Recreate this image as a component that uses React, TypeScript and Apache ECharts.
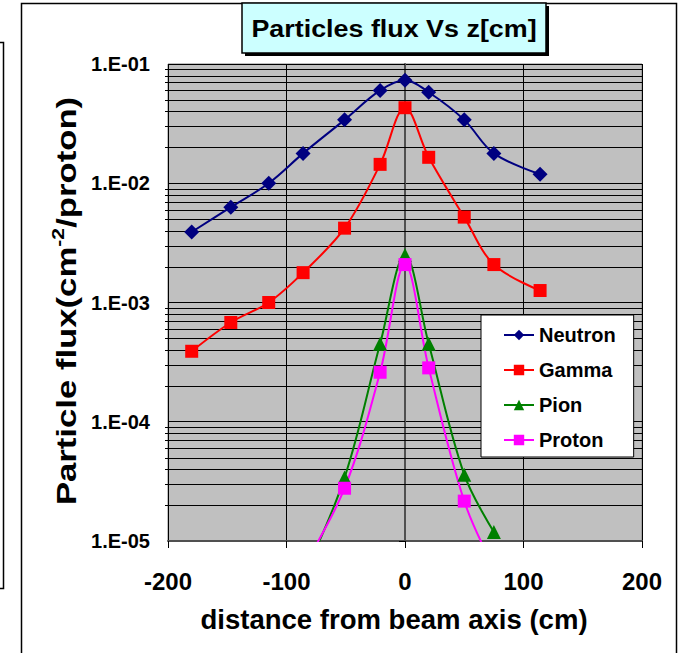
import React, { useEffect, useRef } from 'react';
import * as echarts from 'echarts';

// distances (cm) for neutron / gamma
const distanceNG = [-180, -147, -115, -86, -51, -21, 0, 20, 50, 75, 114];
const neutron = [3.9e-3, 6.3e-3, 1.0e-2, 1.78e-2, 3.4e-2, 6.0e-2, 7.3e-2, 5.8e-2, 3.4e-2, 1.78e-2, 1.19e-2];
const gamma = [3.9e-4, 6.8e-4, 1.0e-3, 1.78e-3, 4.2e-3, 1.44e-2, 4.3e-2, 1.65e-2, 5.2e-3, 2.08e-3, 1.26e-3];
// distances (cm) for pion / proton
const distancePP = [-86, -51, -21, 0, 20, 50, 75];
const pion = [5e-6, 3.4e-5, 4.5e-4, 2.5e-3, 4.5e-4, 3.6e-5, 1.19e-5];
const proton = [6e-6, 2.77e-5, 2.6e-4, 2.08e-3, 2.83e-4, 2.16e-5, 6e-6];

const seriesNames = ['Neutron', 'Gamma', 'Pion', 'Proton'];
const decades = [1e-5, 1e-4, 1e-3, 1e-2];
const minorSteps = [2, 3, 4, 5, 6, 7, 8, 9];

const FONT = 'Liberation Sans, Arial, Helvetica, sans-serif';

const pairs = (xs: number[], ys: number[]) => xs.map((x, i) => [x, ys[i]]);

export default function App() {
  const ref = useRef<HTMLDivElement>(null);

  useEffect(() => {
    if (!ref.current) return;
    const chart = echarts.init(ref.current, undefined, { renderer: 'svg' });

    const minorValues: number[][] = [];
    decades.forEach((d) => minorSteps.forEach((m) => minorValues.push([0, d * m])));

    const lineSeries = (name: string, data: number[][], color: string, symbol: string, size: number) => ({
      name,
      type: 'line',
      data,
      smooth: 0.35,
      symbol,
      symbolSize: size,
      showSymbol: true,
      clip: true,
      z: 3,
      itemStyle: { color },
      lineStyle: { color, width: 2 },
    });

    chart.setOption({
      animation: false,
      backgroundColor: '#ffffff',
      grid: {
        left: 168,
        top: 64,
        right: 39,
        bottom: 112,
        show: true,
        backgroundColor: '#C0C0C0',
        borderColor: '#808080',
        borderWidth: 1,
      },
      xAxis: {
        type: 'value',
        min: -200,
        max: 200,
        interval: 100,
        axisLine: { show: true, onZero: false, lineStyle: { color: '#505050', width: 2 } },
        axisTick: { show: true, length: 7, lineStyle: { color: '#000', width: 1 } },
        splitLine: { show: true, lineStyle: { color: '#000', width: 1 } },
        axisLabel: {
          color: '#000',
          fontSize: 24,
          fontWeight: 'bold',
          fontFamily: FONT,
          margin: 28,
        },
      },
      yAxis: {
        type: 'log',
        logBase: 10,
        min: 1e-5,
        max: 1e-1,
        axisLine: { show: true, lineStyle: { color: '#505050', width: 2 } },
        axisTick: { show: true, length: 6, lineStyle: { color: '#000', width: 1 } },
        splitLine: { show: true, lineStyle: { color: '#000', width: 1 } },
        axisLabel: {
          color: '#000',
          fontSize: 20,
          fontWeight: 'bold',
          fontFamily: FONT,
          margin: 18,
          formatter: (v: number) => {
            const e = Math.round(Math.log10(v));
            return '1.E-' + String(-e).padStart(2, '0');
          },
        },
      },
      legend: {
        data: seriesNames,
        orient: 'vertical',
        left: 481,
        top: 315,
        padding: [10, 18, 7, 22],
        itemGap: 15,
        itemWidth: 30,
        itemHeight: 13,
        backgroundColor: '#ffffff',
        borderColor: '#000',
        borderWidth: 1,
        borderRadius: 0,
        textStyle: { color: '#000', fontSize: 20, fontWeight: 'bold', fontFamily: FONT },
      },
      graphic: [
        // outer chart frame
        { type: 'rect', shape: { x: 21.5, y: 3.5, width: 655, height: 700 }, style: { fill: 'none', stroke: '#000', lineWidth: 1.5 }, z: 100 },
        // neighbouring frame at left edge
        { type: 'rect', shape: { x: -20, y: 42.5, width: 23.5, height: 546 }, style: { fill: 'none', stroke: '#000', lineWidth: 1.5 }, z: 100 },
        // title shadow + box
        { type: 'rect', shape: { x: 245, y: 6, width: 304, height: 50 }, style: { fill: '#000' }, z: 101 },
        { type: 'rect', shape: { x: 242, y: 3, width: 304, height: 50 }, style: { fill: '#CCFFFF', stroke: '#000', lineWidth: 1.5 }, z: 102 },
        {
          type: 'text', x: 394, y: 29, scaleX: 1.12, z: 103,
          style: { text: 'Particles flux Vs z[cm]', fontSize: 24, fontWeight: 'bold', fontFamily: FONT, fill: '#000', align: 'center', verticalAlign: 'middle' },
        },
        {
          type: 'text', x: 394, y: 620, scaleX: 1.02, z: 103,
          style: { text: 'distance from beam axis (cm)', fontSize: 27, fontWeight: 'bold', fontFamily: FONT, fill: '#000', align: 'center', verticalAlign: 'middle' },
        },
        {
          type: 'text', x: 66, y: 301, rotation: Math.PI / 2, scaleX: 1.24, z: 103,
          style: {
            text: '{a|Particle flux(cm}{s|-2}{a|/proton)}',
            align: 'center',
            verticalAlign: 'middle',
            fill: '#000',
            rich: {
              a: { fontSize: 28, fontWeight: 'bold', fontFamily: FONT, fill: '#000', lineHeight: 32, verticalAlign: 'middle' },
              s: { fontSize: 17, fontWeight: 'bold', fontFamily: FONT, fill: '#000', lineHeight: 32, verticalAlign: 'top' },
            },
          },
        },
      ],
      series: [
        {
          type: 'custom',
          name: 'minorGrid',
          silent: true,
          z: 1,
          clip: false,
          data: minorValues,
          renderItem: (params: any, api: any) => {
            const v = api.value(1);
            const p = api.coord([-200, v]);
            const q = api.coord([200, v]);
            const y = Math.round(p[1]) + 0.5;
            return {
              type: 'line',
              shape: { x1: p[0] - 3, y1: y, x2: q[0], y2: y },
              style: { stroke: '#000', lineWidth: 1 },
            };
          },
        },
        lineSeries('Neutron', pairs(distanceNG, neutron), '#000080', 'diamond', 15),
        lineSeries('Gamma', pairs(distanceNG, gamma), '#FF0000', 'rect', 13),
        lineSeries('Pion', pairs(distancePP, pion), '#008000', 'triangle', 14),
        lineSeries('Proton', pairs(distancePP, proton), '#FF00FF', 'rect', 13),
      ],
    });

    return () => chart.dispose();
  }, []);

  return <div ref={ref} style={{ position: 'absolute', left: 0, top: 0, width: 681, height: 653 }} />;
}
